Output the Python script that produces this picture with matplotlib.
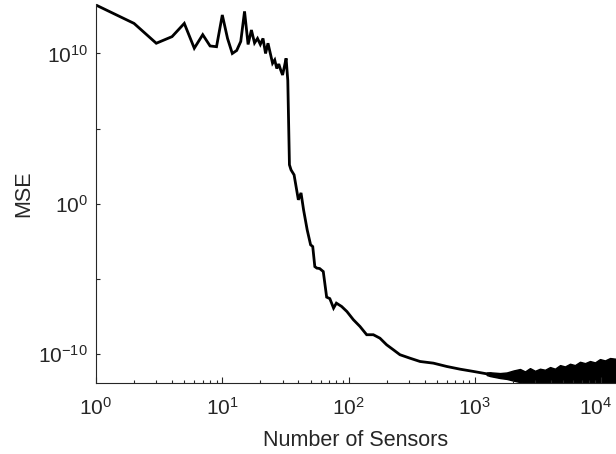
"""MSE against number of sensors, log-log line chart."""

import numpy as np
import matplotlib

matplotlib.use('Agg')
import matplotlib.pyplot as plt
import matplotlib.transforms as mtransforms
from matplotlib.ticker import FixedLocator, FixedFormatter, LogLocator, NullFormatter

plt.rcParams['font.family'] = ['Liberation Sans', 'DejaVu Sans']
plt.rcParams['mathtext.fontset'] = 'custom'
plt.rcParams['mathtext.rm'] = 'Liberation Sans'
plt.rcParams['mathtext.it'] = 'Liberation Sans:italic'
plt.rcParams['mathtext.default'] = 'regular'

# main curve (MSE stored as log10)
n_sensors = [1, 2, 3, 4, 5, 6, 7, 8, 9, 10, 11, 12, 13, 14, 15, 16, 17, 18,
             19, 20, 21, 22, 23, 25, 26, 27, 28, 29, 30, 31, 32, 33, 34, 35,
             37, 40, 42, 44, 47, 50, 52, 54, 56, 59, 63, 67, 71, 76, 80, 88,
             97, 109, 123, 139, 157, 177, 200, 226, 255, 306, 368, 469, 598,
             762, 971, 1240, 1318]
mse_log10 = [13.22, 12.0, 10.68, 11.12, 12.0, 10.35, 11.25, 10.5, 10.45,
             12.56, 11.0, 10.0, 10.2, 10.8, 12.8, 10.6, 11.56, 10.7, 11.0,
             10.6, 11.0, 10.0, 10.68, 9.35, 9.57, 9.0, 9.3, 8.9, 8.57, 9.12,
             9.68, 8.2, 2.6, 2.26, 1.93, 0.27, 0.73, -0.4, -1.73, -2.72,
             -2.84, -4.17, -4.27, -4.3, -4.5, -6.2, -6.3, -6.93, -6.6, -6.82,
             -7.16, -7.7, -8.15, -8.7, -8.7, -8.93, -9.37, -9.7, -10.03,
             -10.26, -10.48, -10.59, -10.81, -10.99, -11.14, -11.3, -11.3]

# noisy tail: upper and lower envelope of the dense oscillation (log10)
band_sensors = [1240, 1318, 1580, 1786, 2014, 2275, 2494, 2729, 2992, 3275,
                3589, 3936, 4305, 4721, 5164, 5662, 6194, 6792, 7447, 8147,
                8933, 9772, 10715, 11749, 13092]
band_upper_log10 = [-11.22, -11.2, -11.25, -11.21, -11.08, -10.98, -11.14,
                    -10.92, -11.10, -10.96, -11.03, -10.85, -10.96, -10.72,
                    -10.81, -10.63, -10.72, -10.50, -10.59, -10.45, -10.54,
                    -10.32, -10.41, -10.25, -10.30]
band_lower_log10 = [-11.38, -11.45, -11.58, -11.64, -11.75, -11.85, -11.9,
                    -11.9, -11.9, -11.9, -11.9, -11.9, -11.9, -11.9, -11.9,
                    -11.9, -11.9, -11.9, -11.9, -11.9, -11.9, -11.9, -11.9,
                    -11.9, -11.9]

y_ticks = [1e-10, 1e-5, 1e0, 1e5, 1e10]
y_tick_labels = ['$10^{-10}$', '', '$10^{0}$', '', '$10^{10}$']
x_ticks = [1e0, 1e1, 1e2, 1e3, 1e4]
x_tick_labels = ['$10^{0}$', '$10^{1}$', '$10^{2}$', '$10^{3}$', '$10^{4}$']

axis_color = '#262626'

fig = plt.figure(figsize=(6.16, 4.54), dpi=100)
ax = fig.add_axes([96 / 616, (454 - 382.7) / 454, 1 - 96 / 616, (382.7 - 4) / 454])

mse = np.power(10.0, mse_log10)
band_hi = np.power(10.0, band_upper_log10)
band_lo = np.power(10.0, band_lower_log10)

ax.plot(n_sensors, mse, color='black', linewidth=2.0, solid_joinstyle='miter')
ax.fill_between(band_sensors, band_lo, band_hi, color='black', linewidth=1.0)

ax.set_xscale('log')
ax.set_yscale('log')
ax.set_xlim(1, 13092)
ax.set_ylim(10 ** -11.89, 10 ** 13.29)

ax.xaxis.set_major_locator(FixedLocator(x_ticks))
ax.xaxis.set_major_formatter(FixedFormatter(x_tick_labels))
ax.xaxis.set_minor_locator(LogLocator(base=10, subs=np.arange(2, 10)))
ax.xaxis.set_minor_formatter(NullFormatter())
ax.yaxis.set_major_locator(FixedLocator(y_ticks))
ax.yaxis.set_major_formatter(FixedFormatter(y_tick_labels))
ax.yaxis.set_minor_locator(FixedLocator([]))

for side in ('top', 'right'):
    ax.spines[side].set_visible(False)
for side in ('left', 'bottom'):
    ax.spines[side].set_color(axis_color)
    ax.spines[side].set_linewidth(0.8)

ax.tick_params(axis='both', which='both', direction='in', color=axis_color,
               labelcolor=axis_color, width=0.8)
ax.tick_params(axis='x', which='major', length=4.3, pad=10, labelsize=15)
ax.tick_params(axis='x', which='minor', length=2.4)
ax.tick_params(axis='y', which='major', length=3.2, pad=6, labelsize=15)

# nudge the last x label left so it stays inside the figure
last_label = ax.xaxis.get_major_ticks()[-1].label1
last_label.set_transform(last_label.get_transform()
                         + mtransforms.ScaledTranslation(-4 / 72, 0, fig.dpi_scale_trans))

ax.set_xlabel('Number of Sensors', fontsize=15.5, color=axis_color, labelpad=8)
ax.set_ylabel('MSE', fontsize=15.5, color=axis_color, labelpad=3)

fig.savefig('out.png', dpi=100)
